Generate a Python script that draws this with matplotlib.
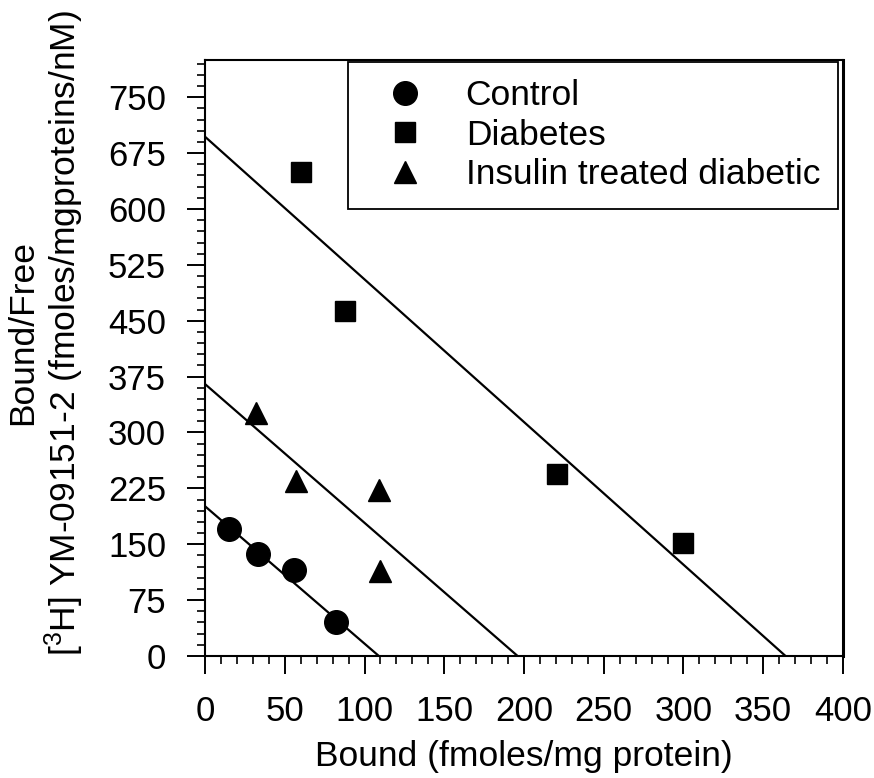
import matplotlib
matplotlib.use("Agg")
import matplotlib.pyplot as plt
from matplotlib.ticker import MultipleLocator

plt.rcParams['font.family'] = ['Liberation Sans', 'DejaVu Sans']
plt.rcParams['mathtext.fontset'] = 'custom'
plt.rcParams['mathtext.rm'] = 'Liberation Sans'
plt.rcParams['mathtext.default'] = 'regular'

# Scatchard data: bound (fmoles/mg protein) vs bound/free
control_bound = [15, 33, 56, 82]
control_bf = [170, 137, 116, 45]

diabetes_bound = [60, 88, 221, 300]
diabetes_bf = [650, 463, 244, 152]

treated_bound = [32, 57, 109, 110]
treated_bf = [326, 235, 223, 114]

# regression lines: y-intercept (Bmax/Kd) and x-intercept (Bmax)
fit_intercept = [201, 697, 365]
fit_bmax = [109, 364, 196]

labels = ['Control', 'Diabetes', 'Insulin treated diabetic']

fig = plt.figure(figsize=(8.74, 7.78), dpi=100)
ax = fig.add_axes([0.2346, 0.1568, 0.7299, 0.7661])

ax.plot(control_bound, control_bf, 'o', color='black', markersize=17, label=labels[0], linestyle='none')
ax.plot(diabetes_bound, diabetes_bf, 's', color='black', markersize=14.5, label=labels[1], linestyle='none')
ax.plot(treated_bound, treated_bf, '^', color='black', markersize=16.5, label=labels[2], linestyle='none')

for b0, bmax in zip(fit_intercept, fit_bmax):
    ax.plot([0, bmax], [b0, 0], color='black', linewidth=1.6)

ax.set_xlim(0, 400)
ax.set_ylim(0, 800)
ax.xaxis.set_major_locator(MultipleLocator(50))
ax.xaxis.set_minor_locator(MultipleLocator(10))
ax.set_yticks(range(0, 751, 75))
ax.yaxis.set_minor_locator(MultipleLocator(15))

ax.tick_params(which='major', direction='out', length=13, width=1.4, labelsize=25, pad=15)
ax.tick_params(which='minor', direction='out', length=6, width=1.2)
ax.tick_params(top=False, right=False, which='both')

for side in ax.spines:
    ax.spines[side].set_linewidth(1.5)
ax.spines['right'].set_linewidth(2.2)

ax.set_xlabel('Bound (fmoles/mg protein)', fontsize=25.5, labelpad=9)
ax.set_ylabel('Bound/Free\n[$^3$H] YM-09151-2 (fmoles/mgproteins/nM)', fontsize=25.5,
              linespacing=1.1)
ax.yaxis.set_label_coords(-0.186, 0.542)

leg = ax.legend(loc='upper right', bbox_to_anchor=(0.992, 0.997), borderaxespad=0,
                fontsize=25.5, frameon=True, fancybox=False, framealpha=1,
                edgecolor='black', handletextpad=0.62, labelspacing=0.18,
                borderpad=0.5, handlelength=2.2)
leg.get_frame().set_linewidth(1.3)

fig.savefig('out.png', dpi=100)
